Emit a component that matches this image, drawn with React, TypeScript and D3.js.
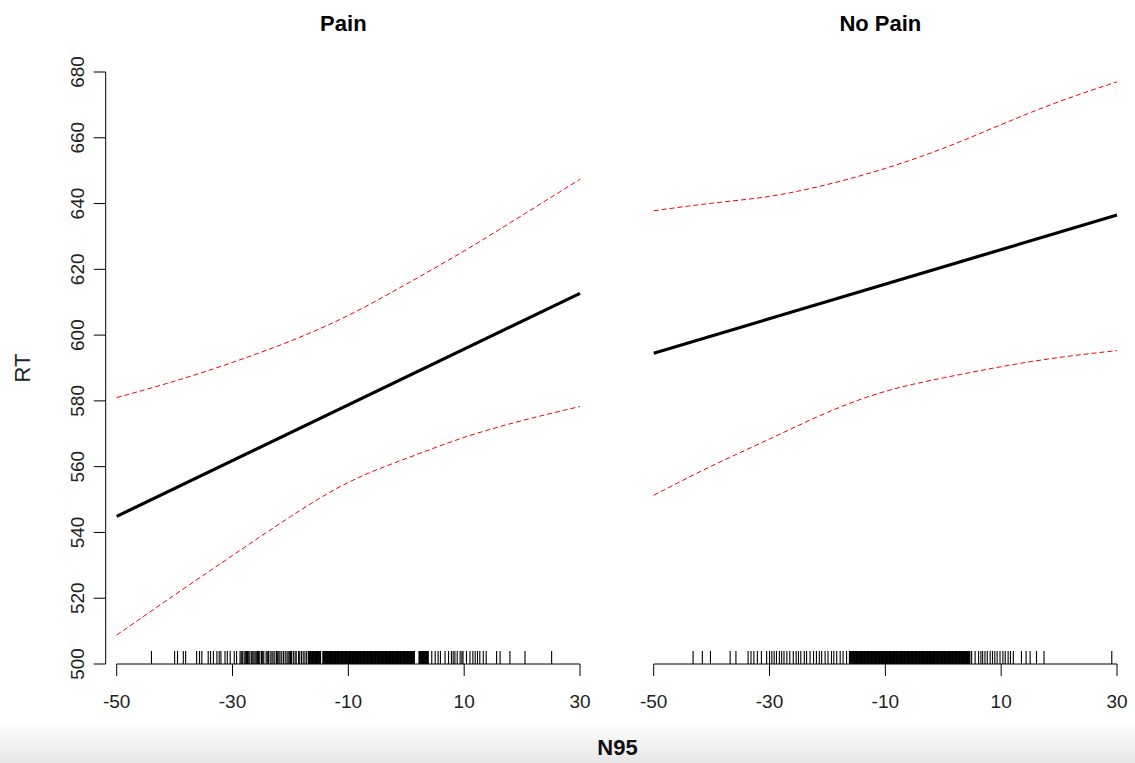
import React from "react";
import * as d3 from "d3";

// ---------- data ----------
const panels = ["Pain", "No Pain"];
const xGrid = [-50, -40, -30, -20, -10, 0, 10, 20, 30];
const fitX = [-50, 30];
const painFit = [544.9, 612.7];
const painUpper = [581.0, 586.0, 591.7, 598.2, 606.0, 615.5, 625.6, 636.4, 647.4];
const painLower = [508.8, 521.0, 533.0, 544.8, 555.2, 562.5, 568.9, 574.0, 578.3];
const noPainFit = [594.5, 636.5];
const noPainUpper = [637.8, 640.1, 642.2, 645.8, 650.7, 656.8, 664.0, 671.0, 677.0];
const noPainLower = [551.3, 560.2, 568.4, 576.5, 582.9, 587.0, 590.4, 593.2, 595.3];

const xTicks = [-50, -30, -10, 10, 30];
const yTicks = [500, 520, 540, 560, 580, 600, 620, 640, 660, 680];

const painRug = [
  -44.0, -40.0, -39.5, -38.5, -38.1, -36.2, -35.7, -35.3, -34.2, -33.8, -33.3, -32.7, -32.3, -32.0,
  -31.3, -30.9, -30.4, -29.7, -29.3,
  -28.7, -28.5, -28.3, -28.0, -27.8, -27.6, -27.4, -27.2, -27.0, -26.7, -26.5, -26.3, -26.1, -25.9,
  -25.7, -25.5, -25.3, -25.0, -24.8, -24.6, -24.2, -24.0, -23.8, -23.5, -23.2, -23.0, -22.7, -22.4,
  -22.2, -22.0, -21.8, -21.5, -21.2, -20.9, -20.6, -20.4, -20.2, -20.0, -19.8, -19.5, -19.2, -19.0,
  -18.6, -18.4, -18.1, -17.8, -17.5, -17.2,
  -16.9, -16.8, -16.7, -16.6, -16.5, -16.4, -16.3, -16.2, -16.1, -16.0, -15.9, -15.8, -15.7, -15.6,
  -15.5, -15.4, -15.3, -15.2, -15.1, -15.0, -14.9, -14.8,
  -14.4, -14.3, -14.2, -14.1, -14.0, -13.9, -13.8, -13.7, -13.6, -13.5, -13.4, -13.3, -13.2, -13.1,
  -13.0, -12.9, -12.8, -12.7, -12.6, -12.5, -12.4, -12.3, -12.2, -12.1, -12.0, -11.9, -11.8, -11.7,
  -11.6, -11.5, -11.4, -11.3, -11.2, -11.1, -11.0, -10.9, -10.8, -10.7, -10.6, -10.5, -10.4, -10.3,
  -10.2, -10.1, -10.0, -9.9, -9.8, -9.7, -9.6, -9.5, -9.4, -9.3, -9.2, -9.1, -9.0, -8.9, -8.8, -8.7,
  -8.6, -8.5, -8.4, -8.3, -8.2, -8.1, -8.0, -7.9, -7.8, -7.7, -7.6, -7.5, -7.4, -7.3, -7.2, -7.1,
  -7.0, -6.9, -6.8, -6.7, -6.6, -6.5, -6.4, -6.3, -6.2, -6.1, -6.0, -5.9, -5.8, -5.7, -5.6, -5.5,
  -5.4, -5.3, -5.2, -5.1, -5.0, -4.9, -4.8, -4.7, -4.6, -4.5, -4.4, -4.3, -4.2, -4.1, -4.0, -3.9,
  -3.8, -3.7, -3.6, -3.5, -3.4, -3.3, -3.2, -3.1, -3.0, -2.9, -2.8, -2.7, -2.6, -2.5, -2.4, -2.3,
  -2.2, -2.1, -2.0, -1.9, -1.8, -1.7, -1.6, -1.5, -1.4, -1.3, -1.2, -1.1, -1.0, -0.9, -0.8, -0.7,
  -0.6, -0.5, -0.4, -0.3, -0.2, -0.1, 0.0, 0.1, 0.2, 0.3, 0.4, 0.5, 0.6, 0.7, 0.8, 0.9, 1.0, 1.1,
  1.2, 1.3, 1.4,
  2.2, 2.3, 2.4, 2.5, 2.6, 2.7, 2.8, 2.9, 3.0, 3.1, 3.2, 3.3, 3.4, 3.5, 3.6, 3.7, 3.8,
  4.4, 5.0, 5.5, 5.9, 6.7, 7.3, 7.8, 8.1, 8.4, 8.8, 9.3, 9.6, 9.8, 10.4, 11.0, 11.5, 11.9, 12.3,
  12.7, 13.3, 13.8, 15.6, 16.2, 17.9, 20.5, 25.1,
];

const noPainRug = [
  -43.2, -41.6, -40.2, -36.8, -35.8, -33.7, -33.2, -32.7, -32.1, -31.4, -30.5, -30.0, -29.6, -29.2,
  -28.8, -28.3, -27.9, -27.5, -27.0, -26.5, -25.9, -25.4, -25.0, -24.6, -24.0, -23.6, -23.0, -22.4,
  -21.9, -21.4, -21.0, -20.4, -19.9, -19.3, -18.9, -18.4, -17.8, -17.3, -16.7,
  -16.2, -16.1, -16.0, -15.9, -15.8, -15.7, -15.6, -15.5, -15.4, -15.3, -15.2, -15.1, -15.0, -14.9,
  -14.8, -14.7, -14.6, -14.5, -14.4, -14.3, -14.2, -14.1, -14.0, -13.9, -13.8, -13.7, -13.6, -13.5,
  -13.4, -13.3, -13.2, -13.1, -13.0, -12.9, -12.8, -12.7, -12.6, -12.5, -12.4, -12.3, -12.2, -12.1,
  -12.0, -11.9, -11.8, -11.7, -11.6, -11.5, -11.4, -11.3, -11.2, -11.1, -11.0, -10.9, -10.8, -10.7,
  -10.6, -10.5, -10.4, -10.3, -10.2, -10.1, -10.0, -9.9, -9.8, -9.7, -9.6, -9.5, -9.4, -9.3, -9.2,
  -9.1, -9.0, -8.9, -8.8, -8.7, -8.6, -8.5, -8.4, -8.3, -8.2, -8.1, -8.0, -7.9, -7.8, -7.7, -7.6,
  -7.5, -7.4, -7.3, -7.2, -7.1, -7.0, -6.9, -6.8, -6.7, -6.6, -6.5, -6.4, -6.3, -6.2, -6.1, -6.0,
  -5.9, -5.8, -5.7, -5.6, -5.5, -5.4, -5.3, -5.2, -5.1, -5.0, -4.9, -4.8, -4.7, -4.6, -4.5, -4.4,
  -4.3, -4.2, -4.1, -4.0, -3.9, -3.8, -3.7, -3.6, -3.5, -3.4, -3.3, -3.2, -3.1, -3.0, -2.9, -2.8,
  -2.7, -2.6, -2.5, -2.4, -2.3, -2.2, -2.1, -2.0, -1.9, -1.8, -1.7, -1.6, -1.5, -1.4, -1.3, -1.2,
  -1.1, -1.0, -0.9, -0.8, -0.7, -0.6, -0.5, -0.4, -0.3, -0.2, -0.1, 0.0, 0.1, 0.2, 0.3, 0.4, 0.5,
  0.6, 0.7, 0.8, 0.9, 1.0, 1.1, 1.2, 1.3, 1.4, 1.5, 1.6, 1.7, 1.8, 1.9, 2.0, 2.1, 2.2, 2.3, 2.4,
  2.5, 2.6, 2.7, 2.8, 2.9, 3.0, 3.1, 3.2, 3.3, 3.4, 3.5, 3.6, 3.7, 3.8, 3.9, 4.0, 4.1, 4.2, 4.3,
  4.4, 4.5, 4.6,
  4.9, 5.5, 6.1, 6.5, 6.8, 7.2, 7.6, 8.1, 8.5, 8.9, 9.3, 9.8, 10.3, 10.7, 11.2, 11.6, 12.1, 13.5,
  14.3, 15.0, 16.1, 17.4, 29.1,
];

const panelData = [
  { title: panels[0], fit: painFit, upper: painUpper, lower: painLower, rug: painRug },
  { title: panels[1], fit: noPainFit, upper: noPainUpper, lower: noPainLower, rug: noPainRug },
];

// ---------- layout ----------
const W = 1135;
const H = 763;
const panelLeft = [116.7, 653.7];
const panelWidth = 463.3;
const yTop = 72;
const yBottom = 664;
const FONT = "'Liberation Sans', Arial, Helvetica, sans-serif";

const y = d3.scaleLinear().domain([500, 680]).range([yBottom, yTop]);

function Panel({ p, left }: { p: any; left: number }) {
  const x = d3.scaleLinear().domain([-50, 30]).range([left, left + panelWidth]);
  const fitLine = d3
    .line<number>()
    .x((_, i) => x(fitX[i]))
    .y((d) => y(d));
  const band = d3
    .line<number>()
    .x((_, i) => x(xGrid[i]))
    .y((d) => y(d))
    .curve(d3.curveNatural);
  return (
    <g>
      <text
        x={x(-10) - 5}
        y={31}
        textAnchor="middle"
        fontFamily={FONT}
        fontWeight="bold"
        fontSize={22}
        fill="#000"
      >
        {p.title}
      </text>
      {/* rug */}
      {p.rug.map((v: number, i: number) => (
        <line key={i} x1={x(v)} x2={x(v)} y1={651} y2={yBottom} stroke="#000" strokeWidth={1.1} />
      ))}
      {/* x axis */}
      <line x1={x(-50)} x2={x(30)} y1={yBottom} y2={yBottom} stroke="#000" strokeWidth={1} />
      {xTicks.map((t) => (
        <g key={t}>
          <line x1={x(t)} x2={x(t)} y1={yBottom} y2={yBottom + 12} stroke="#000" strokeWidth={1} />
          <text
            x={x(t)}
            y={708}
            textAnchor="middle"
            fontFamily={FONT}
            fontSize={19}
            fill="#222"
          >
            {t}
          </text>
        </g>
      ))}
      {/* bands */}
      <path d={band(p.upper) || ""} fill="none" stroke="#ff0000" strokeWidth={1} strokeDasharray="5,3" />
      <path d={band(p.lower) || ""} fill="none" stroke="#ff0000" strokeWidth={1} strokeDasharray="5,3" />
      {/* fit */}
      <path d={fitLine(p.fit) || ""} fill="none" stroke="#000" strokeWidth={3.2} />
    </g>
  );
}

export default function App() {
  const axisX = 105.7;
  return (
    <svg
      width={W}
      height={H}
      viewBox={`0 0 ${W} ${H}`}
      style={{ position: "absolute", left: 0, top: 0, background: "#fff" }}
    >
      <defs>
        <linearGradient id="bottomShade" x1="0" y1="0" x2="0" y2="1">
          <stop offset="0" stopColor="#ffffff" />
          <stop offset="1" stopColor="#e6e6e6" />
        </linearGradient>
      </defs>
      <rect x={0} y={0} width={W} height={H} fill="#fff" />
      <rect x={0} y={722} width={W} height={H - 722} fill="url(#bottomShade)" />
      {/* y axis */}
      <line x1={axisX} x2={axisX} y1={y(680)} y2={y(500)} stroke="#000" strokeWidth={1} />
      {yTicks.map((t) => (
        <g key={t}>
          <line x1={axisX - 12} x2={axisX} y1={y(t)} y2={y(t)} stroke="#000" strokeWidth={1} />
          <text
            transform={`translate(${84},${y(t)}) rotate(-90)`}
            textAnchor="middle"
            fontFamily={FONT}
            fontSize={19}
            fill="#222"
          >
            {t}
          </text>
        </g>
      ))}
      <text
        transform={`translate(${30},${368}) rotate(-90)`}
        textAnchor="middle"
        fontFamily={FONT}
        fontSize={22}
        fill="#222"
      >
        RT
      </text>
      {panelData.map((p, i) => (
        <Panel key={p.title} p={p} left={panelLeft[i]} />
      ))}
      <text
        x={617.5}
        y={755}
        textAnchor="middle"
        fontFamily={FONT}
        fontWeight="bold"
        fontSize={22}
        fill="#111"
      >
        N95
      </text>
    </svg>
  );
}
